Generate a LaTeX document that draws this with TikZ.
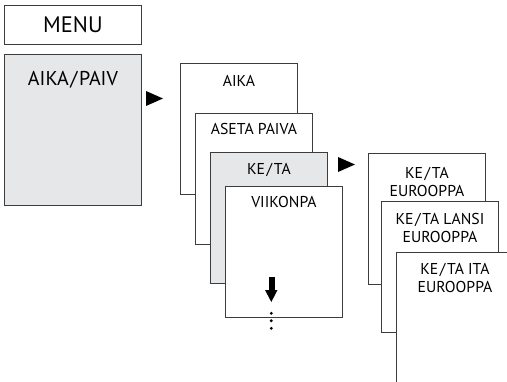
\documentclass[tikz,border=0pt]{standalone}
\usepackage{fontspec}
\setmainfont{PT Sans}
\usetikzlibrary{positioning}
\definecolor{panel}{HTML}{E6E7E8}
\definecolor{rim}{HTML}{3C3C3C}
\newcommand{\slsep}{\kern1.2pt/\kern1.2pt}

\begin{document}
\begin{tikzpicture}[x=0.75pt,y=-0.75pt,
    card/.style={draw=rim, line width=0.65pt, fill=white, anchor=north west, inner sep=0,
                 minimum width=87.75pt, minimum height=98.25pt},
    lbl/.style={inner sep=0, align=center, font=\fontsize{11.8}{13.5}\selectfont}]

    \clip (0,0) rectangle (507,382);

    \node [card, minimum width=102.75pt, minimum height=29.25pt] (menu) at (4,5) {};
    \node [inner sep=0, font=\fontsize{16.8}{18}\selectfont] (menut) at (menu.center) {MENU};
    \node [card, fill=panel, minimum width=102.75pt, minimum height=113.25pt] (aikapaiv) at (4,54) {};
    \node [lbl, font=\fontsize{15}{17}\selectfont, below=12.75pt of aikapaiv.north] (aikapaivt) {AIKA\slsep PAIV};

    \fill (146,91) -- (163,98.5) -- (146,106) -- cycle;

    \node [card] (aika) at (180,63) {};
    \node [lbl, below=9pt of aika.north] (aikat) {AIKA};
    \node [card] (aseta) at (195,113) {};
    \node [lbl, below=7.5pt of aseta.north] (asetat) {ASETA PAIVA};
    \node [card, fill=panel] (keta) at (210,152) {};
    \node [lbl, below=8.25pt of keta.north] (ketat) {KE\slsep TA};
    \node [card] (viikon) at (225,186) {};
    \node [lbl, below=7.5pt of viikon.north] (viikont) {VIIKONPA};

    % scroll down
    \fill (268.5,277) rectangle (274.5,291);
    \fill (265,290) -- (277.5,290) -- (271.3,302) -- cycle;
    \foreach \y in {313.3,320.7,328.3}
        \fill (271.3,\y) circle (1.6);

    \fill (338,157) -- (355,164.5) -- (338,172) -- cycle;

    \node [card] (eur) at (368,153) {};
    \node [lbl, below=10.5pt of eur.north] (eurt) {KE\slsep TA\\EUROOPPA};
    \node [card] (lansi) at (381,201) {};
    \node [lbl, below=9pt of lansi.north] (lansit) {KE\slsep TA LANSI\\EUROOPPA};
    \node [card] (ita) at (396,252) {};
    \node [lbl, below=8.25pt of ita.north] (itat) {KE\slsep TA ITA\\EUROOPPA};
\end{tikzpicture}
\end{document}
